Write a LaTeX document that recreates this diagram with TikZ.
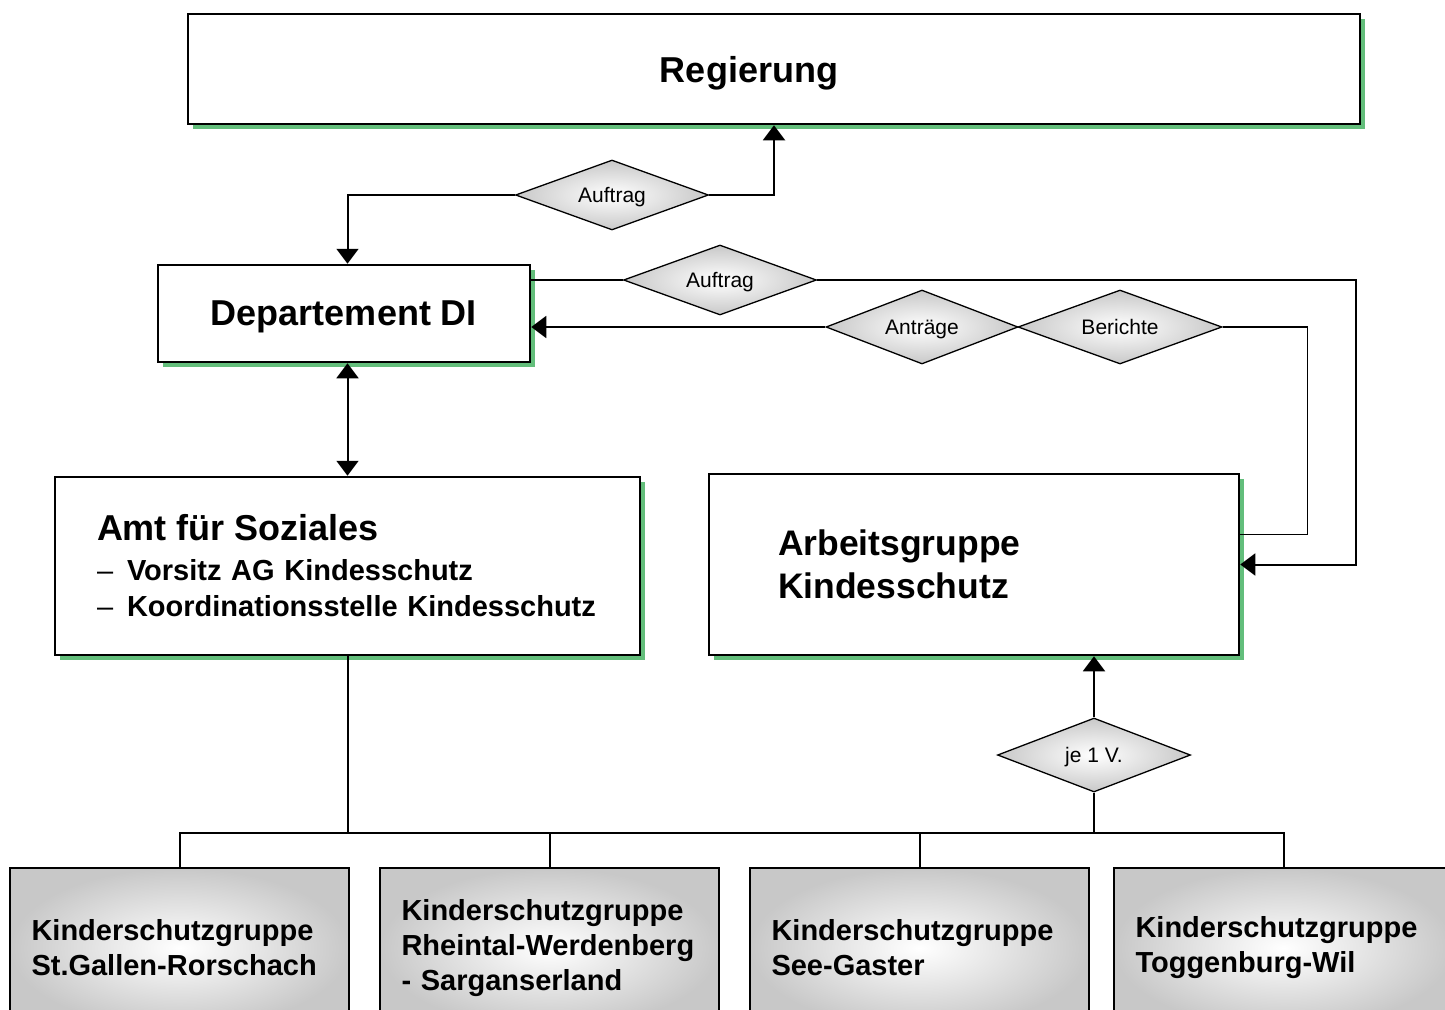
\documentclass[tikz,border=0pt]{standalone}
\usepackage{fontspec}
\setmainfont{Liberation Sans}
\usetikzlibrary{shapes.geometric, shadows, arrows.meta}

\definecolor{shadowgreen}{RGB}{99,190,123}
\definecolor{boxgray}{RGB}{200,200,200}

\begin{document}
\begin{tikzpicture}
[every node/.style={inner sep=0pt},
 box/.style={rectangle, draw=black, line width=2.5pt, fill=white, drop shadow={shadow xshift=5pt, shadow yshift=-5pt, fill=shadowgreen, opacity=1}},
 groupbox/.style={rectangle, draw=black, line width=2.5pt, shade, inner color=white, outer color=boxgray, minimum width=339pt, minimum height=160pt, text width=296pt, align=left, font=\fontsize{29}{35}\selectfont\bfseries},
 decision/.style={diamond, aspect=2.8, draw=black, line width=1.3pt, shade, inner color=white, outer color=boxgray, minimum width=193pt, minimum height=70pt, text depth=0pt, font=\fontsize{21}{24}\selectfont},
 link/.style={line width=2pt, color=black},
 thinlink/.style={line width=1.5pt, color=black},
 tip/.style={-{Triangle[length=15pt, width=22pt]}},
 tips/.style={{Triangle[length=15pt, width=22pt]}-{Triangle[length=15pt, width=22pt]}}]
\useasboundingbox (0pt, 0pt) rectangle (1445pt, -1009pt);
\clip (0pt, 0pt) rectangle (1445pt, -1009pt);
\node (regierung) [box, minimum width=1172pt, minimum height=110pt, text width=1122pt, text depth=0pt, align=center, font=\fontsize{36}{40}\selectfont\bfseries] at (774pt, -69pt) {\hspace*{-50pt}Regierung};
\node (departement) [box, minimum width=372pt, minimum height=97pt, text depth=0pt, font=\fontsize{36}{40}\selectfont\bfseries] at (344pt, -313.5pt) {Departement DI};
\node (amt) [box, minimum width=585pt, minimum height=178pt, text width=501pt, align=left, font=\fontsize{29}{36}\selectfont\bfseries] at (347.5pt, -566pt) {{\fontsize{36}{36}\selectfont Amt für Soziales}\\[4pt]
  \makebox[30pt][l]{\mdseries –}\mbox{Vorsitz AG Kindesschutz}\\
  \makebox[30pt][l]{\mdseries –}\mbox{Koordinationsstelle Kindesschutz}};
\node (arbeitsgruppe) [box, minimum width=530pt, minimum height=181pt, text width=392pt, align=left, font=\fontsize{35.5}{43}\selectfont\bfseries] at (974pt, -564.5pt) {Arbeitsgruppe\\Kindesschutz};
\node (auftragA) [decision] at (612pt, -195pt) {Auftrag};
\node (auftragB) [decision] at (720pt, -280pt) {Auftrag};
\node (antraege) [decision, minimum width=192pt, minimum height=74pt] at (922pt, -327pt) {Anträge};
\node (berichte) [decision, minimum width=204pt, minimum height=74pt] at (1120pt, -327pt) {Berichte};
\node (je) [decision, minimum height=74pt] at (1094pt, -755pt) {je 1 V.};
\node (kg1) [groupbox] at (179.5pt, -948pt) {Kinderschutzgruppe\\St.Gallen-Rorschach};
\node (kg2) [groupbox] at (549.5pt, -948pt) {Kinderschutzgruppe\\Rheintal-Werdenberg\\- Sarganserland};
\node (kg3) [groupbox] at (919.5pt, -948pt) {Kinderschutzgruppe\\See-Gaster};
\node (kg4) [groupbox] at (1283.5pt, -948pt) {Kinderschutzgruppe\\Toggenburg-Wil};
\coordinate (bus) at (0pt, -833pt);
\draw [link, tip] (auftragA.west) -| (amt.north |- departement.north);
\draw [link, tip] (auftragA.east) -| (regierung.south);
\draw [thinlink] (departement.east |- auftragB.west) -- (auftragB.west);
\draw [link, tip] (auftragB.east) -| ([xshift=116pt]arbeitsgruppe.east) -- (arbeitsgruppe.east);
\draw [link, tip] (antraege.west) -- (antraege.west -| departement.east);
\draw [thinlink] (berichte.east) -| ([xshift=67pt, yshift=30pt]arbeitsgruppe.east) -- ([yshift=30pt]arbeitsgruppe.east);
\draw [link, tips] (amt.north |- departement.south) -- (amt.north);
\draw [link, tip] (je.north) -- (je.north |- arbeitsgruppe.south);
\draw [link] (je.south) -- (je.south |- bus);
\draw [link] (amt.south) -- (amt.south |- bus);
\draw [link] (kg1.north) -- (kg1.north |- bus) -- (kg4.north |- bus) -- (kg4.north);
\draw [link] (kg2.north) -- (kg2.north |- bus);
\draw [link] (kg3.north) -- (kg3.north |- bus);

\end{tikzpicture}
\end{document}
